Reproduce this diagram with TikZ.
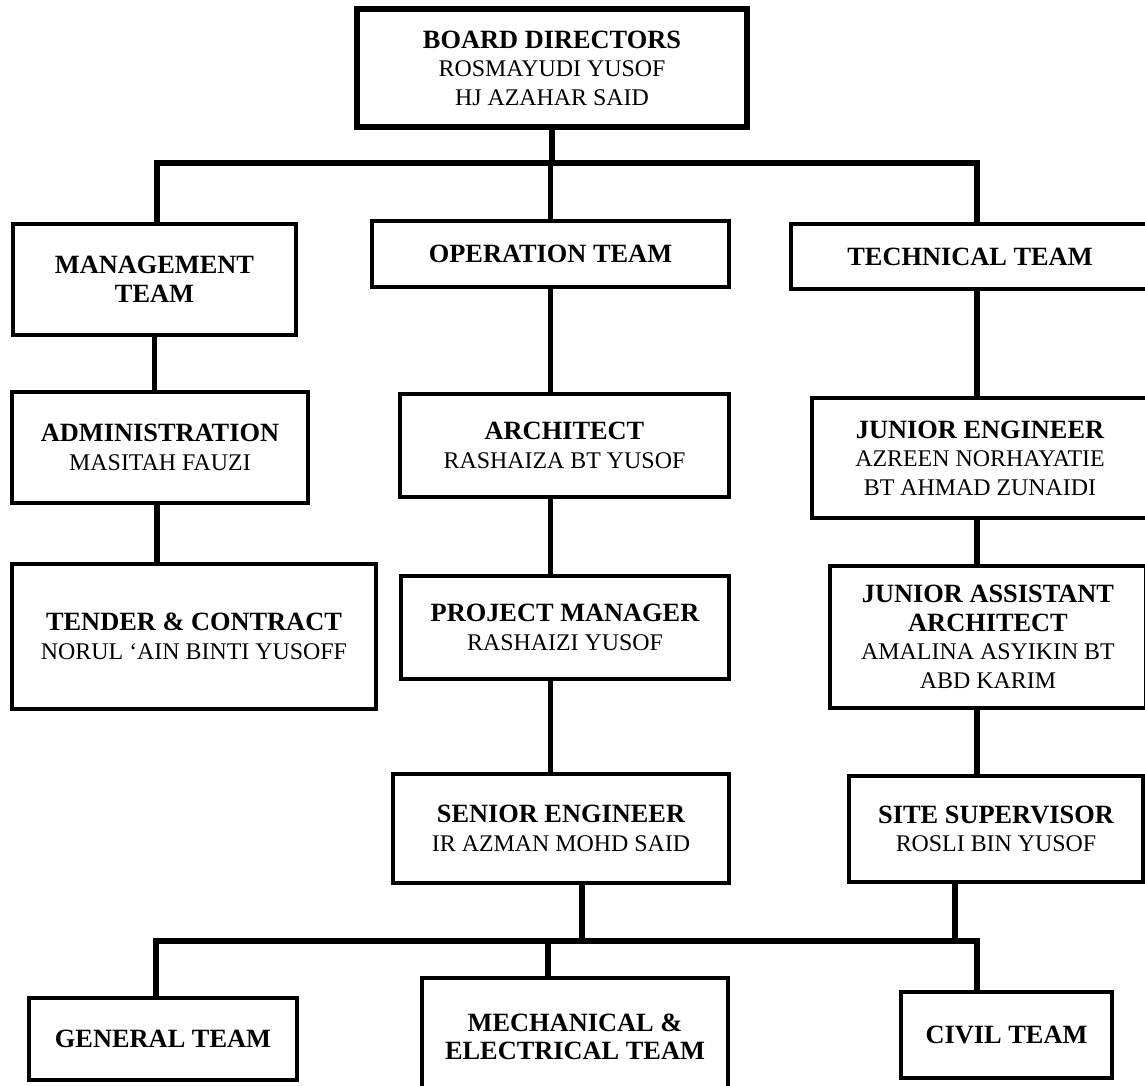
\documentclass[tikz,border=0pt]{standalone}
\usepackage{fontspec}
\setmainfont{Liberation Serif}
\usetikzlibrary{positioning,calc}

\newcommand{\ttl}[1]{{\bfseries #1}}
\newcommand{\nme}[1]{{\fontsize{13.6}{16.2}\selectfont #1}}

\begin{document}
\begin{tikzpicture}
  % Styles for boxes and lines
  \tikzset{orgbox/.style={draw=black, line width=2.5pt, fill=white, align=center, inner sep=0pt,
      font=\fontsize{15}{16.2}\selectfont}}
  \tikzset{link/.style={line width=3.1pt, black}}
  \tikzset{bar/.style={line width=3pt, black, line cap=rect}}

  \useasboundingbox (0,0) rectangle (22.9,-21.72);

  % Board
  \node[orgbox, line width=3.2pt, minimum width=7.8cm, minimum height=2.36cm] (board) at (11.04,-1.36)
    {\ttl{BOARD DIRECTORS}\\\nme{ROSMAYUDI YUSOF}\\\nme{HJ AZAHAR SAID}};

  % Teams
  \node[orgbox, minimum width=5.66cm, minimum height=2.22cm] (mgmt) at (3.09,-5.59)
    {\ttl{MANAGEMENT}\\\ttl{TEAM}};
  \node[orgbox, minimum width=7.14cm, minimum height=1.32cm] (oper) at (11.01,-5.08)
    {\ttl{OPERATION TEAM}};
  \node[orgbox, minimum width=7.16cm, minimum height=1.30cm] (tech) at (19.4,-5.13)
    {\ttl{TECHNICAL TEAM}};

  % Management branch
  \node[orgbox, minimum width=5.92cm, minimum height=2.22cm] (admin) at (3.2,-8.95)
    {\ttl{ADMINISTRATION}\\\nme{MASITAH FAUZI}};
  \node[orgbox, minimum width=7.28cm, minimum height=2.9cm] (tender) at (3.88,-12.73)
    {\ttl{TENDER \& CONTRACT}\\\nme{NORUL `AIN BINTI YUSOFF}};

  % Operation branch
  \node[orgbox, minimum width=6.58cm, minimum height=2.06cm] (arch) at (11.29,-8.91)
    {\ttl{ARCHITECT}\\\nme{RASHAIZA BT YUSOF}};
  \node[orgbox, minimum width=6.56cm, minimum height=2.06cm] (pm) at (11.3,-12.55)
    {\ttl{PROJECT MANAGER}\\\nme{RASHAIZI YUSOF}};
  \node[orgbox, minimum width=6.72cm, minimum height=2.18cm] (senior) at (11.22,-16.57)
    {\ttl{SENIOR ENGINEER}\\\nme{IR AZMAN MOHD SAID}};

  % Technical branch
  \node[orgbox, minimum width=6.72cm, minimum height=2.4cm] (je) at (19.6,-9.16)
    {\ttl{JUNIOR ENGINEER}\\\nme{AZREEN NORHAYATIE}\\\nme{BT AHMAD ZUNAIDI}};
  \node[orgbox, minimum width=6.32cm, minimum height=2.84cm] (jaa) at (19.76,-12.74)
    {\ttl{JUNIOR ASSISTANT}\\\ttl{ARCHITECT}\\\nme{AMALINA ASYIKIN BT}\\\nme{ABD KARIM}};
  \node[orgbox, minimum width=5.88cm, minimum height=2.12cm] (site) at (19.92,-16.58)
    {\ttl{SITE SUPERVISOR}\\\nme{ROSLI BIN YUSOF}};

  % Bottom teams
  \node[orgbox, minimum width=5.36cm, minimum height=1.64cm] (general) at (3.26,-20.78)
    {\ttl{GENERAL TEAM}};
  \node[orgbox, minimum width=6.12cm, minimum height=2.36cm] (mech) at (11.5,-20.74)
    {\ttl{MECHANICAL \&}\\\ttl{ELECTRICAL TEAM}};
  \node[orgbox, minimum width=4.22cm, minimum height=1.72cm] (civil) at (20.13,-20.7)
    {\ttl{CIVIL TEAM}};

  % Bars
  \coordinate (topL) at (3.14,-3.26);
  \coordinate (topR) at (19.54,-3.26);
  \coordinate (botL) at (3.12,-18.82);
  \coordinate (botM) at (10.96,-18.82);
  \coordinate (botR) at (19.54,-18.82);
  \coordinate (seniorDrop) at ([xshift=0.42cm]senior.south);
  \coordinate (siteDrop) at ([xshift=-0.82cm]site.south);
  \draw[bar] (topL) -- (topR);
  \draw[bar] (botL) -- (botR);

  % Links
  \draw[link] (board.south) -- (board.south |- topL);
  \draw[link] (topL) -- (topL |- mgmt.north);
  \draw[link] (oper.north |- topL) -- (oper.north);
  \draw[link] (topR) -- (topR |- tech.north);
  \draw[link] (mgmt.south) -- (mgmt.south |- admin.north);
  \draw[link] (topL |- admin.south) -- (topL |- tender.north);
  \draw[link] (oper.south) -- (oper.south |- arch.north);
  \draw[link] (oper.south |- arch.south) -- (oper.south |- pm.north);
  \draw[link] (oper.south |- pm.south) -- (oper.south |- senior.north);
  \draw[link] (topR |- tech.south) -- (topR |- je.north);
  \draw[link] (topR |- je.south) -- (topR |- jaa.north);
  \draw[link] (topR |- jaa.south) -- (topR |- site.north);
  \draw[link] (seniorDrop) -- (seniorDrop |- botL);
  \draw[link] (siteDrop) -- (siteDrop |- botR);
  \draw[link] (botL) -- (botL |- general.north);
  \draw[link] (botM) -- (botM |- mech.north);
  \draw[link] (botR) -- (botR |- civil.north);
\end{tikzpicture}
\end{document}
